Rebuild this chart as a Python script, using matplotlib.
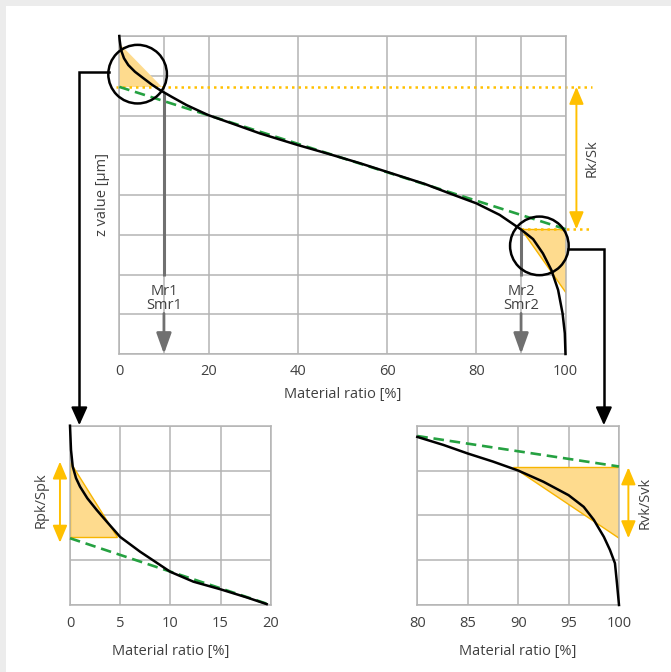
import matplotlib
matplotlib.use("Agg")
import matplotlib.pyplot as plt
from matplotlib.patches import Polygon, Circle, Rectangle

plt.rcParams['font.family'] = ['Open Sans', 'DejaVu Sans']

# ---------------- data ----------------
main_ticks = [0, 20, 40, 60, 80, 100]
main_grid_extra = [10, 90]
main_curve_x = [0, 0.08, 0.38, 1.05, 2.01, 3.51, 5.37, 7.25, 9.11, 11.73, 15.1, 19.92, 25.5, 31.5,
                39.9, 46.4, 53.9, 62.8, 68.4, 74.0, 80.0, 85.2, 89.9, 92.7, 94.9, 96.8, 98.3,
                99.3, 99.8, 99.95]
main_curve_y = [8.0, 7.90, 7.65, 7.44, 7.27, 7.10, 6.94, 6.78, 6.64, 6.47, 6.26, 6.01, 5.79, 5.55,
                5.26, 5.05, 4.80, 4.48, 4.28, 4.04, 3.79, 3.50, 3.14, 2.89, 2.53, 2.11, 1.61,
                1.02, 0.52, 0.0]
main_line_x = [0, 100]
main_line_y = [6.72, 3.14]
rk_top, rk_bottom = 6.72, 3.14
peak_tri_x = [0, 0, 9.5]
peak_tri_y = [7.82, 6.72, 6.72]
valley_tri_x = [90, 100, 100]
valley_tri_y = [3.14, 3.14, 1.53]
mr1, mr2 = 10, 90

left_ticks = [0, 5, 10, 15, 20]
left_curve_x = [0, 0.1, 0.27, 0.6, 1.0, 1.73, 2.66, 3.66, 4.99, 6.98, 10.0, 12.3, 15.0, 17.6, 19.6]
left_curve_y = [4.0, 3.46, 3.09, 2.83, 2.64, 2.38, 2.12, 1.86, 1.52, 1.19, 0.74, 0.52, 0.35, 0.17, 0.02]
left_line_x = [0, 20]
left_line_y = [1.49, 0.0]
left_tri_x = [0, 0, 4.65]
left_tri_y = [3.20, 1.51, 1.51]
rpk_range = [3.20, 1.39]

right_ticks = [80, 85, 90, 95, 100]
right_curve_x = [80, 82.6, 85, 87.5, 90.0, 92.5, 95.0, 96.5, 97.5, 98.5, 99.1, 99.6, 99.8, 100]
right_curve_y = [3.75, 3.57, 3.38, 3.20, 3.0, 2.75, 2.45, 2.19, 1.90, 1.52, 1.23, 0.93, 0.48, 0.0]
right_line_x = [80, 100]
right_line_y = [3.77, 3.09]
right_tri_x = [89.5, 100, 100]
right_tri_y = [3.085, 3.085, 1.50]
rvk_range = [3.07, 1.49]

# ---------------- style ----------------
GRID = '#b4b4b4'
TXT = '#404040'
GREEN = '#25a141'
ORANGE = '#ffc000'
FILL = '#fedb8e'
EDGE = '#f7b500'
GRAY = '#707070'
FS = 10.5

W, H = 671, 672
fig = plt.figure(figsize=(W / 100, H / 100), dpi=100, facecolor='#ececec')
fig.patches.append(Rectangle((6 / W, 0), 1, 1 - 6 / H, transform=fig.transFigure,
                             facecolor='white', edgecolor='none', zorder=-5))


def style_axes(ax, xlim, ylim, xticks, grid_x, ny, pad=7):
    ax.set_xlim(*xlim)
    ax.set_ylim(*ylim)
    ax.set_facecolor('none')
    for s in ax.spines.values():
        s.set_color(GRID)
        s.set_linewidth(1.1)
    for gx in grid_x:
        ax.axvline(gx, color=GRID, lw=1.1, zorder=0.5)
    for gy in range(ny + 1):
        ax.axhline(gy, color=GRID, lw=1.1, zorder=0.5)
    ax.set_xticks(xticks)
    ax.set_xticklabels([str(t) for t in xticks])
    ax.set_yticks([])
    ax.tick_params(axis='x', length=0, pad=pad, labelsize=FS, labelcolor=TXT)


def double_arrow(ax, x, y0, y1, ms=11):
    ax.annotate('', xy=(x, y1), xytext=(x, y0),
                arrowprops=dict(arrowstyle='<|-|>,head_length=0.95,head_width=0.4',
                                color=ORANGE, lw=1.4, mutation_scale=ms,
                                shrinkA=0, shrinkB=0),
                annotation_clip=False)


# ---------------- main chart ----------------
ax = fig.add_axes([119.3 / W, 1 - 354 / H, 446.4 / W, 318 / H])
style_axes(ax, (0, 100), (0, 8), main_ticks, main_ticks + main_grid_extra, 8)
ax.set_xlabel('Material ratio [%]', fontsize=FS, color=TXT, labelpad=6)
ax.set_ylabel('z value [µm]', fontsize=FS, color=TXT, labelpad=7)

ax.add_patch(Polygon(list(zip(peak_tri_x, peak_tri_y)), closed=True, facecolor=FILL,
                     edgecolor='none', zorder=1))
ax.add_patch(Polygon(list(zip(valley_tri_x, valley_tri_y)), closed=True, facecolor=FILL,
                     edgecolor=EDGE, lw=1.0, zorder=1))
ax.plot([-0.7, 106], [rk_top, rk_top], color=ORANGE, lw=1.8, ls=(0, (1.0, 1.6)),
        clip_on=False, zorder=2)
ax.plot([mr2, 106], [rk_bottom, rk_bottom], color=ORANGE, lw=1.8, ls=(0, (1.0, 1.6)),
        clip_on=False, zorder=2)
ax.plot(main_line_x, main_line_y, color=GREEN, lw=1.9, ls=(0, (4, 2.2)), zorder=3)
ax.plot(main_curve_x, main_curve_y, color='black', lw=1.8, zorder=4, clip_on=False,
        solid_joinstyle='round')
double_arrow(ax, 102.4, rk_bottom, rk_top)
ax.text(105.9, (rk_top + rk_bottom) / 2, 'Rk/Sk', rotation=90, ha='center', va='center',
        fontsize=FS, color=TXT, clip_on=False)


def y_on_curve(xv):
    for i in range(len(main_curve_x) - 1):
        x0, x1 = main_curve_x[i], main_curve_x[i + 1]
        if x0 <= xv <= x1:
            t = (xv - x0) / (x1 - x0)
            return main_curve_y[i] + t * (main_curve_y[i + 1] - main_curve_y[i])
    return main_curve_y[-1]


for mx, lab in [(mr1, 'Mr1\nSmr1'), (mr2, 'Mr2\nSmr2')]:
    ax.plot([mx, mx], [y_on_curve(mx), 1.96], color=GRAY, lw=2.2, zorder=3,
            solid_capstyle='butt')
    ax.annotate('', xy=(mx, 0.0), xytext=(mx, 1.02),
                arrowprops=dict(arrowstyle='-|>,head_length=1.25,head_width=0.45',
                                color=GRAY, lw=2.0, mutation_scale=10, shrinkA=0, shrinkB=0),
                zorder=3)
    ax.text(mx, 1.40, lab, ha='center', va='center', fontsize=FS, color=TXT,
            linespacing=0.95, zorder=3)

# ---------------- left inset ----------------
axl = fig.add_axes([70 / W, 1 - 605 / H, 200.7 / W, 179.3 / H])
style_axes(axl, (0, 20), (0, 4), left_ticks, left_ticks, 4, pad=8)
axl.set_xlabel('Material ratio [%]', fontsize=FS, color=TXT, labelpad=9)
axl.add_patch(Polygon(list(zip(left_tri_x, left_tri_y)), closed=True, facecolor=FILL,
                      edgecolor=EDGE, lw=1.0, zorder=1))
axl.plot(left_line_x, left_line_y, color=GREEN, lw=1.9, ls=(0, (4, 2.2)), zorder=3,
         clip_on=False)
axl.plot(left_curve_x, left_curve_y, color='black', lw=1.8, zorder=4, clip_on=False)
double_arrow(axl, -1.0, rpk_range[1], rpk_range[0])
axl.text(-2.85, sum(rpk_range) / 2 + 0.05, 'Rpk/Spk', rotation=90, ha='center', va='center',
         fontsize=FS, color=TXT)

# ---------------- right inset ----------------
axr = fig.add_axes([417.3 / W, 1 - 605 / H, 201.7 / W, 179.3 / H])
style_axes(axr, (80, 100), (0, 4), right_ticks, right_ticks, 4, pad=8)
axr.set_xlabel('Material ratio [%]', fontsize=FS, color=TXT, labelpad=9)
axr.add_patch(Polygon(list(zip(right_tri_x, right_tri_y)), closed=True, facecolor=FILL,
                      edgecolor=EDGE, lw=1.0, zorder=1))
axr.plot(right_line_x, right_line_y, color=GREEN, lw=1.9, ls=(0, (4, 2.2)), zorder=3,
         clip_on=False)
axr.plot(right_curve_x, right_curve_y, color='black', lw=1.8, zorder=4, clip_on=False)
double_arrow(axr, 100.93, rvk_range[1], rvk_range[0])
axr.text(102.6, sum(rvk_range) / 2, 'Rvk/Svk', rotation=90, ha='center', va='center',
         fontsize=FS, color=TXT)

# ---------------- overlay: magnifier circles and connectors ----------------
ov = fig.add_axes([0, 0, 1, 1], zorder=10)
ov.set_xlim(0, W)
ov.set_ylim(0, H)
ov.axis('off')


def to_px(a, pt):
    return fig.transFigure.inverted().transform(a.transData.transform(pt)) * [W, H]


R = 29.3
c1 = to_px(ax, (4.1, 7.04))
c2 = to_px(ax, (94.1, 2.72))
for c in (c1, c2):
    ov.add_patch(Circle(c, R, fill=False, edgecolor='black', lw=1.8))

top_l = to_px(axl, (0.93, 4.0))
top_r = to_px(axr, (98.5, 4.0))
y1 = c1[1] + 2.6
ov.plot([c1[0] - R + 0.3, top_l[0], top_l[0]], [y1, y1, top_l[1] + 10], color='black', lw=1.8,
        solid_joinstyle='miter')
ov.annotate('', xy=(top_l[0], top_l[1] + 0.5), xytext=(top_l[0], top_l[1] + 12),
            arrowprops=dict(arrowstyle='-|>,head_length=1.0,head_width=0.45', color='black',
                            lw=1.5, mutation_scale=11, shrinkA=0, shrinkB=0))
y2 = c2[1] - 3
ov.plot([c2[0] + R - 0.3, top_r[0], top_r[0]], [y2, y2, top_r[1] + 10], color='black', lw=1.8,
        solid_joinstyle='miter')
ov.annotate('', xy=(top_r[0], top_r[1] + 0.5), xytext=(top_r[0], top_r[1] + 12),
            arrowprops=dict(arrowstyle='-|>,head_length=1.0,head_width=0.45', color='black',
                            lw=1.5, mutation_scale=11, shrinkA=0, shrinkB=0))

fig.savefig('out.png', dpi=100, facecolor=fig.get_facecolor())
